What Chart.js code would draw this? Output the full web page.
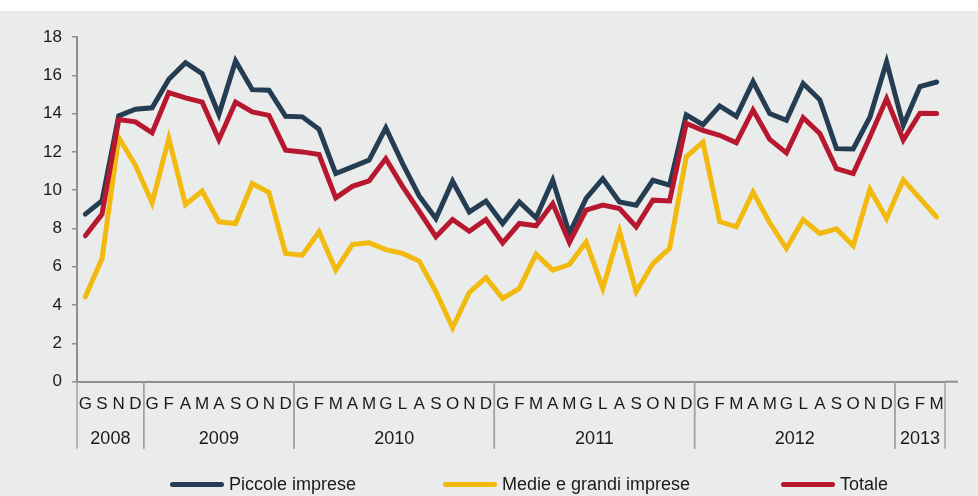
<!DOCTYPE html>
<html>
<head>
<meta charset="utf-8">
<script src="https://cdn.jsdelivr.net/npm/chart.js@4/dist/chart.umd.min.js"></script>
<style>
  html, body { margin: 0; padding: 0; }
  body {
    width: 978px; height: 496px; overflow: hidden; position: relative;
    background: linear-gradient(#ffffff 0, #ffffff 11px, #eaeceb 11px);
    font-family: "Liberation Sans", Arial, sans-serif;
  }
  #wrap { position: absolute; left: 0; top: 0; width: 978px; height: 496px; }
  .leg { position: absolute; top: 473px; height: 22px; display: flex; align-items: center; font-size: 18px; color: #1a1a1a; white-space: nowrap; }
  .leg span.line { display: inline-block; width: 54px; height: 5px; border-radius: 3px; margin-right: 5px; }
</style>
</head>
<body>
<div id="wrap"><canvas id="chart" width="978" height="496"></canvas></div>
<div class="leg" style="left:170px"><span class="line" style="background:#253d53"></span>Piccole imprese</div>
<div class="leg" style="left:443px"><span class="line" style="background:#f2b90f"></span>Medie e grandi imprese</div>
<div class="leg" style="left:781px"><span class="line" style="background:#b8182f"></span>Totale</div>
<script>
// etichette mesi e anni
const months = [
  'G', 'S', 'N', 'D',
  'G', 'F', 'A', 'M', 'A', 'S', 'O', 'N', 'D',
  'G', 'F', 'M', 'A', 'M', 'G', 'L', 'A', 'S', 'O', 'N', 'D',
  'G', 'F', 'M', 'A', 'M', 'G', 'L', 'A', 'S', 'O', 'N', 'D',
  'G', 'F', 'M', 'A', 'M', 'G', 'L', 'A', 'S', 'O', 'N', 'D',
  'G', 'F', 'M'
];
const years = ['2008', '2009', '2010', '2011', '2012', '2013'];
const monthsPerYear = [4, 9, 12, 12, 12, 3];

const piccole = [
  8.75, 9.45, 13.88, 14.23,
  14.3, 15.79, 16.66, 16.09, 13.95, 16.75, 15.25, 15.22, 13.86,
  13.83, 13.18, 10.87, 11.22, 11.57, 13.25, 11.4, 9.7, 8.52, 10.47, 8.87, 9.43,
  8.26, 9.39, 8.56, 10.52, 7.74, 9.57, 10.6, 9.39, 9.22, 10.52, 10.26, 13.93,
  13.42, 14.4, 13.85, 15.67, 14.0, 13.65, 15.57, 14.72, 12.17, 12.15, 13.81, 16.7,
  13.39, 15.41, 15.65
];
const medie = [
  4.43, 6.43, 12.75, 11.3,
  9.34, 12.7, 9.25, 9.95, 8.35, 8.26, 10.35, 9.88, 6.7,
  6.61, 7.83, 5.83, 7.17, 7.25, 6.9, 6.7, 6.3, 4.7, 2.82, 4.66, 5.43,
  4.35, 4.87, 6.66, 5.83, 6.12, 7.3, 4.87, 7.86, 4.7, 6.17, 6.96, 11.74,
  12.52, 8.36, 8.09, 9.9, 8.3, 6.96, 8.47, 7.74, 7.98, 7.1, 10.04, 8.52,
  10.54, 9.57, 8.6
];
const totale = [
  7.62, 8.75, 13.69, 13.57,
  13.0, 15.1, 14.82, 14.6, 12.64, 14.6, 14.09, 13.91, 12.09,
  12.0, 11.86, 9.6, 10.2, 10.49, 11.65, 10.2, 8.9, 7.57, 8.47, 7.86, 8.47,
  7.25, 8.26, 8.14, 9.3, 7.27, 8.96, 9.22, 9.04, 8.09, 9.48, 9.44, 13.48,
  13.12, 12.87, 12.48, 14.19, 12.65, 11.95, 13.79, 12.96, 11.13, 10.87, 12.78, 14.78,
  12.62, 14.02, 14.0
];

const axisGray = '#8e8e8e';
const textColor = '#1a1a1a';

// seconda riga dell'asse x: anni e separatori
const yearRow = {
  id: 'yearRow',
  afterDraw(chart) {
    const sx = chart.scales.x;
    const ctx = chart.ctx;
    const half = (sx.getPixelForValue(1) - sx.getPixelForValue(0)) / 2;
    const top = sx.top;
    ctx.save();
    // l'asse x prosegue un po' oltre l'ultimo separatore
    ctx.strokeStyle = axisGray;
    ctx.lineWidth = 2;
    ctx.beginPath();
    ctx.moveTo(sx.right, top);
    ctx.lineTo(sx.right + 13, top);
    ctx.stroke();

    ctx.strokeStyle = '#a2a2a2';
    ctx.lineWidth = 1.5;
    ctx.fillStyle = textColor;
    ctx.font = '18px "Liberation Sans", Arial, sans-serif';
    ctx.textAlign = 'center';
    ctx.textBaseline = 'middle';
    let start = 0;
    years.forEach((yr, k) => {
      const end = start + monthsPerYear[k] - 1;
      const x0 = sx.getPixelForValue(start) - half;
      const x1 = sx.getPixelForValue(end) + half;
      [x0, x1].forEach(xx => {
        ctx.beginPath();
        ctx.moveTo(xx, top);
        ctx.lineTo(xx, top + 67);
        ctx.stroke();
      });
      ctx.fillText(yr, (x0 + x1) / 2, top + 57);
      start = end + 1;
    });
    ctx.restore();
  }
};

new Chart(document.getElementById('chart'), {
  type: 'line',
  data: {
    labels: months,
    datasets: [
      { label: 'Piccole imprese', data: piccole, borderColor: '#253d53', backgroundColor: '#253d53', order: 3 },
      { label: 'Medie e grandi imprese', data: medie, borderColor: '#f2b90f', backgroundColor: '#f2b90f', order: 2 },
      { label: 'Totale', data: totale, borderColor: '#b8182f', backgroundColor: '#b8182f', order: 1 }
    ]
  },
  options: {
    responsive: false,
    animation: false,
    devicePixelRatio: 1,
    layout: { padding: { top: 37, right: 33, left: 0, bottom: 0 } },
    elements: {
      line: { borderWidth: 5, tension: 0, borderCapStyle: 'round', fill: false },
      point: { radius: 0, hoverRadius: 0 }
    },
    plugins: {
      legend: { display: false },
      tooltip: { enabled: false }
    },
    scales: {
      x: {
        type: 'category',
        offset: true,
        grid: { display: false, drawTicks: false },
        border: { display: true, color: axisGray, width: 2 },
        ticks: {
          autoSkip: false, maxRotation: 0, minRotation: 0, padding: 12,
          color: textColor, font: { family: '"Liberation Sans", Arial, sans-serif', size: 17 }
        },
        afterFit(scale) { scale.height = 114.3; }
      },
      y: {
        min: 0, max: 18,
        grid: { drawOnChartArea: false, drawTicks: true, tickLength: 5, color: axisGray, lineWidth: 1.5 },
        border: { display: true, color: axisGray, width: 2 },
        ticks: {
          stepSize: 2, padding: 10,
          color: textColor, font: { family: '"Liberation Sans", Arial, sans-serif', size: 17 }
        },
        afterFit(scale) { scale.width = 77; }
      }
    }
  },
  plugins: [yearRow]
});
</script>
</body>
</html>
